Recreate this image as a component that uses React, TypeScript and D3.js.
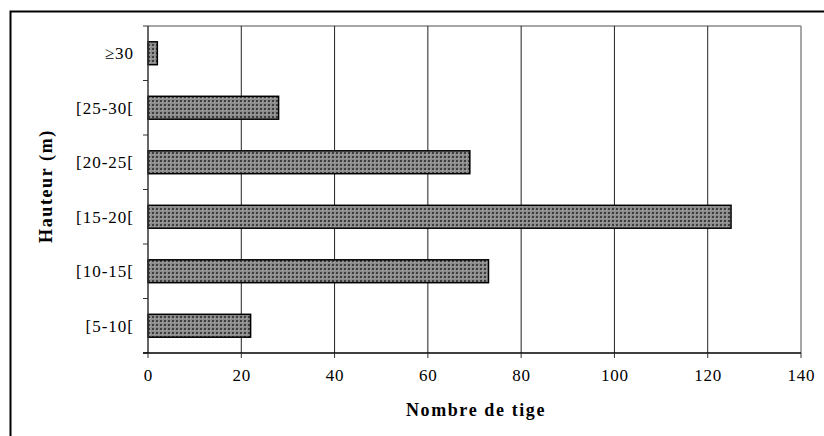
import React from "react";
import * as d3 from "d3";

// Tree counts per height class
const categories = ["[5-10[", "[10-15[", "[15-20[", "[20-25[", "[25-30[", "≥30"];
const counts = [22, 73, 125, 69, 28, 2];
const xTicks = [0, 20, 40, 60, 80, 100, 120, 140];

const W = 824;
const H = 436;
const plot = { left: 148, right: 801, top: 26, bottom: 353 };
const font = "'Liberation Serif', 'Times New Roman', serif";

export default function App() {
  const x = d3.scaleLinear().domain([0, 140]).range([plot.left, plot.right]);
  // first category at the bottom
  const y = d3
    .scaleBand<string>()
    .domain([...categories].reverse())
    .range([plot.top, plot.bottom])
    .paddingInner(0.58)
    .paddingOuter(0.29);

  const bandEdges = d3.range(categories.length + 1).map(
    (i) => plot.top + (i * (plot.bottom - plot.top)) / categories.length
  );

  return (
    <div style={{ position: "absolute", left: 0, top: 0 }}>
      <svg width={W} height={H} style={{ display: "block" }}>
        <defs>
          <pattern id="dots" width={4} height={4} patternUnits="userSpaceOnUse">
            <rect width={4} height={4} fill="#8c8c8c" />
            <rect x={0} y={0} width={2} height={2} fill="#3e3e3e" />
            <rect x={2} y={2} width={1} height={1} fill="#b0b0b0" />
          </pattern>
        </defs>
        <rect x={0} y={0} width={W} height={H} fill="#fff" />
        {/* outer frame */}
        <rect x={10.5} y={11.5} width={W + 10} height={H + 10} fill="none" stroke="#000" strokeWidth={2} />

        {/* plot border, top and right */}
        <line x1={plot.left} x2={plot.right} y1={plot.top} y2={plot.top} stroke="#888" strokeWidth={1.5} />
        <line x1={plot.right} x2={plot.right} y1={plot.top} y2={plot.bottom} stroke="#888" strokeWidth={1.5} />

        {/* vertical gridlines */}
        {xTicks.slice(1, -1).map((t) => (
          <line key={t} x1={x(t)} x2={x(t)} y1={plot.top} y2={plot.bottom} stroke="#222" strokeWidth={1} />
        ))}

        {/* bars */}
        {categories.map((c, i) => (
          <rect
            key={c}
            x={x(0)}
            y={y(c)!}
            width={x(counts[i]) - x(0)}
            height={y.bandwidth()}
            fill="url(#dots)"
            stroke="#000"
            strokeWidth={1.5}
          />
        ))}

        {/* y axis */}
        <line x1={plot.left} x2={plot.left} y1={plot.top} y2={plot.bottom} stroke="#333" strokeWidth={1.5} />
        {bandEdges.map((v, i) => (
          <line key={i} x1={plot.left - 5} x2={plot.left} y1={v} y2={v} stroke="#333" strokeWidth={1} />
        ))}
        {categories.map((c) => (
          <text
            key={c}
            x={134}
            y={y(c)! + y.bandwidth() / 2}
            dy="0.35em"
            textAnchor="end"
            fontFamily={font}
            fontSize={17}
            letterSpacing={1}
            fill="#000"
          >
            {c}
          </text>
        ))}

        {/* x axis */}
        <line x1={plot.left - 5} x2={plot.right} y1={plot.bottom} y2={plot.bottom} stroke="#000" strokeWidth={1.5} />
        {xTicks.map((t) => (
          <g key={t}>
            <line x1={x(t)} x2={x(t)} y1={plot.bottom} y2={plot.bottom + 5} stroke="#333" strokeWidth={1} />
            <text
              x={x(t) + 0.4}
              y={381}
              textAnchor="middle"
              fontFamily={font}
              fontSize={17}
              letterSpacing={0.7}
              fill="#000"
            >
              {t}
            </text>
          </g>
        ))}

        {/* axis titles */}
        <text
          x={476}
          y={416}
          textAnchor="middle"
          fontFamily={font}
          fontSize={18}
          fontWeight="bold"
          letterSpacing={1.6}
          fill="#000"
        >
          Nombre de tige
        </text>
        <text
          transform={`translate(52, 186) rotate(-90)`}
          textAnchor="middle"
          fontFamily={font}
          fontSize={18}
          fontWeight="bold"
          letterSpacing={1.6}
          fill="#000"
        >
          Hauteur (m)
        </text>
      </svg>
    </div>
  );
}
